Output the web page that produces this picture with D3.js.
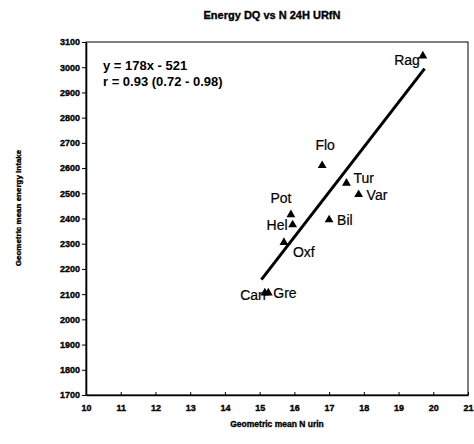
<!DOCTYPE html>
<html>
<head>
<meta charset="utf-8">
<script src="https://cdn.jsdelivr.net/npm/d3@7"></script>
<style>
  html, body { margin: 0; padding: 0; background: #fff; }
  svg { display: block; font-family: "Liberation Sans", Arial, sans-serif; }
  .heavy { stroke: #000; stroke-width: 0.35px; }
</style>
</head>
<body>
<svg id="chart" width="474" height="444"></svg>
<script>
// Centres and their geometric means
const centres = ["Rag", "Flo", "Tur", "Var", "Bil", "Pot", "Hel", "Oxf", "Can", "Gre"];
const nUrine = [19.7, 16.8, 17.5, 17.85, 17.0, 15.9, 15.95, 15.7, 15.15, 15.25];
const energyIntake = [3045, 2610, 2540, 2495, 2395, 2415, 2375, 2305, 2105, 2105];

const xTicks = [10, 11, 12, 13, 14, 15, 16, 17, 18, 19, 20, 21];
const yTicks = [1700, 1800, 1900, 2000, 2100, 2200, 2300, 2400, 2500, 2600, 2700, 2800, 2900, 3000, 3100];

// Fitted line and the x range it is drawn over
const slope = 178;
const intercept = -521;
const fitExtent = [15.05, 19.75];
const equationLines = ["y = 178x - 521", "r = 0.93 (0.72 - 0.98)"];

// Label placement around each marker: [dx, dy, anchor]
const labelPlacement = {
  Rag: [-3, 9, "end"],
  Flo: [3, -16, "middle"],
  Tur: [7, 0, "start"],
  Var: [8, 5, "start"],
  Bil: [8, 5, "start"],
  Pot: [-10, -12, "middle"],
  Hel: [-5, 5, "end"],
  Oxf: [9, 15, "start"],
  Can: [1, 7, "end"],
  Gre: [5, 5, "start"]
};

const svg = d3.select("#chart");
const plotLeft = 86, plotRight = 468, plotTop = 42, plotBottom = 395;

const x = d3.scaleLinear().domain([10, 21]).range([plotLeft, plotRight]);
const y = d3.scaleLinear().domain([1700, 3100]).range([plotBottom, plotTop]);

// Title
svg.append("text")
  .attr("class", "heavy")
  .attr("x", 272).attr("y", 19)
  .attr("text-anchor", "middle")
  .attr("font-size", 11).attr("font-weight", "bold")
  .text("Energy DQ vs N 24H URfN");

// Frame
svg.append("rect")
  .attr("x", plotLeft).attr("y", plotTop)
  .attr("width", plotRight - plotLeft).attr("height", plotBottom - plotTop)
  .attr("fill", "none").attr("stroke", "#000").attr("stroke-width", 1);

// Y axis
const yAxis = svg.append("g")
  .attr("transform", `translate(${plotLeft},0)`)
  .call(d3.axisLeft(y).tickValues(yTicks).tickFormat(d3.format("d"))
    .tickSize(4).tickSizeOuter(0).tickPadding(2));
yAxis.select(".domain").attr("stroke-width", 1.6);
yAxis.selectAll("text").attr("class", "heavy").attr("font-size", 9).attr("font-weight", "bold")
  .attr("font-family", "Liberation Sans, Arial, sans-serif").attr("fill", "#000");

// X axis (ticks point into the plot)
const xAxis = svg.append("g")
  .attr("transform", `translate(0,${plotBottom})`)
  .call(d3.axisBottom(x).tickValues(xTicks).tickFormat(d3.format("d"))
    .tickSize(-3).tickSizeOuter(0).tickPadding(10));
xAxis.select(".domain").attr("stroke-width", 1.3);
xAxis.selectAll("text").attr("class", "heavy").attr("font-size", 9).attr("font-weight", "bold")
  .attr("font-family", "Liberation Sans, Arial, sans-serif").attr("fill", "#000");

// Axis titles
svg.append("text")
  .attr("class", "heavy")
  .attr("x", (plotLeft + plotRight) / 2).attr("y", 427)
  .attr("text-anchor", "middle")
  .attr("font-size", 8.5).attr("font-weight", "bold")
  .text("Geometric mean N urin");

svg.append("text")
  .attr("class", "heavy")
  .attr("transform", "translate(21,208) rotate(-90)")
  .attr("text-anchor", "middle")
  .attr("font-size", 8).attr("font-weight", "bold")
  .text("Geometric mean energy intake");

// Regression line
svg.append("line")
  .attr("x1", x(fitExtent[0])).attr("y1", y(slope * fitExtent[0] + intercept))
  .attr("x2", x(fitExtent[1])).attr("y2", y(slope * fitExtent[1] + intercept))
  .attr("stroke", "#000").attr("stroke-width", 3);

// Equation
svg.append("g").selectAll("text")
  .data(equationLines)
  .join("text")
  .attr("x", 103).attr("y", (d, i) => 70 + i * 16)
  .attr("font-size", 13).attr("font-weight", "bold")
  .text(d => d);

// Markers
const points = centres.map((c, i) => ({ name: c, x: nUrine[i], y: energyIntake[i] }));
const tri = d3.symbol().type(d3.symbolTriangle).size(34);

svg.append("g").selectAll("path")
  .data(points)
  .join("path")
  .attr("transform", d => `translate(${x(d.x)},${y(d.y)})`)
  .attr("d", tri)
  .attr("fill", "#000");

// Point labels
svg.append("g").selectAll("text")
  .data(points)
  .join("text")
  .attr("x", d => x(d.x) + labelPlacement[d.name][0])
  .attr("y", d => y(d.y) + labelPlacement[d.name][1])
  .attr("text-anchor", d => labelPlacement[d.name][2])
  .attr("font-size", 14)
  .attr("stroke", "#000").attr("stroke-width", 0.2)
  .text(d => d.name);
</script>
</body>
</html>
